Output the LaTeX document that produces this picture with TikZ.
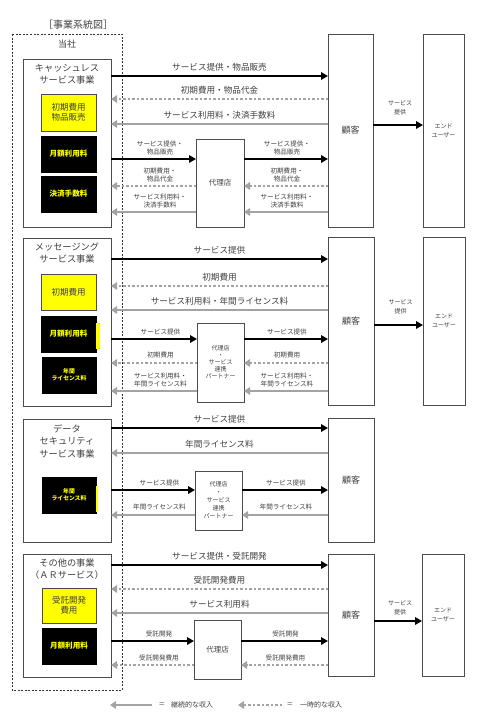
\documentclass[tikz,border=0pt]{standalone}
\usepackage{fontspec}
\setmainfont{Noto Sans CJK JP}
\usetikzlibrary{arrows.meta}
\definecolor{arrgray}{RGB}{163,163,163}
\definecolor{txtgray}{RGB}{64,64,64}
\definecolor{hlyellow}{RGB}{255,255,0}
\newcommand\fzTitle{\fontsize{10}{12}\selectfont}
\newcommand\fzSec{\fontsize{9.2}{12}\selectfont}
\newcommand\fzSecB{\fontsize{9.2}{12.5}\selectfont}
\newcommand\fzMain{\fontsize{8.6}{10}\selectfont}
\newcommand\fzBox{\fontsize{8.5}{9.8}\selectfont}
\newcommand\fzBlk{\fontsize{7.6}{9}\selectfont}
\newcommand\fzBlkS{\fontsize{5.8}{7.5}\selectfont}
\newcommand\fzSmall{\fontsize{6.6}{8}\selectfont}
\newcommand\fzTiny{\fontsize{6}{9}\selectfont}
\newcommand\fzDaiA{\fontsize{6}{7}\selectfont}
\newcommand\fzDaiB{\fontsize{6}{8}\selectfont}
\newcommand\fzDai{\fontsize{7.5}{9}\selectfont}
\newcommand\fzKok{\fontsize{9}{11}\selectfont}
\begin{document}
\begin{tikzpicture}[x=1pt,y=-1pt,
  box/.style={draw=black!70, line width=0.8pt, fill=white, inner sep=0pt, outer sep=0pt,
    anchor=north west, text=txtgray, align=center},
  ybox/.style={box, fill=hlyellow, minimum width=55, minimum height=36, font=\fzBox},
  bkbox/.style={box, draw=black, fill=black, text=hlyellow, font=\fzBlk\bfseries,
    minimum width=55, minimum height=36},
  ttl/.style={text=txtgray, font=\fzSec, align=center, inner sep=0pt},
  barr/.style={draw=black, line width=2.3pt, -{Triangle[length=7pt,width=7.5pt]}},
  garr/.style={draw=arrgray, line width=2.3pt, -{Triangle[length=6pt,width=7.5pt]}},
  gdot/.style={garr, dash pattern=on 2.4pt off 2.1pt},
  lab/.style={text=txtgray, font=\fzMain, inner sep=0pt},
  slab/.style={text=txtgray, font=\fzSmall, align=center, inner sep=0pt},
  tlab/.style={text=txtgray, font=\fzTiny, align=center, inner sep=0pt}
]
\useasboundingbox (0,0) rectangle (486,720);
\fill[white] (0,0) rectangle (486,720);

% header
\node[text=txtgray, font=\fzTitle, inner sep=0pt] (title) at (78,25) {［事業系統図］};
\draw[black!80, line width=0.7pt, dash pattern=on 2pt off 1.5pt] (12,34) rectangle (122,690);
\node[text=txtgray, font=\fzKok, inner sep=0pt] (tosha) at (67,44) {当社};

% ===== Section 1 =====
\node[box, minimum width=88, minimum height=168] (s1) at (23,59) {};
\node[ttl] (t1) at (67,74) {キャッシュレス\\サービス事業};
\node[ybox, minimum height=37] (y1a) at (41,94) {初期費用\\物品販売};
\node[bkbox] (b1b) at (41,136) {月額利用料};
\node[bkbox] (b1c) at (41,176) {決済手数料};
\node[box, minimum width=48, minimum height=88, font=\fzDai] (d1) at (196,139) {代理店};
\node[box, minimum width=45, minimum height=193, font=\fzKok] (k1) at (328,34) {顧客};
\node[box, minimum width=41, minimum height=193, font=\fzTiny] (e1) at (423,34) {エンド\\ユーザー};

\draw[barr] (s1.east |- 0,76) -- node[lab, above=4pt] {サービス提供・物品販売} (k1.west |- 0,76);
\draw[gdot] (k1.west |- 0,99) -- node[lab, above=4pt] {初期費用・物品代金} (s1.east |- 0,99);
\draw[garr] (k1.west |- 0,124) -- node[lab, above=4pt] {サービス利用料・決済手数料} (s1.east |- 0,124);
\draw[barr] (s1.east |- 0,159) -- node[slab, above=3pt, xshift=6.5pt] {サービス提供・\\物品販売} (d1.west |- 0,159);
\draw[barr] (d1.east |- 0,159) -- node[slab, above=3pt, xshift=1pt] {サービス提供・\\物品販売} (k1.west |- 0,159);
\draw[gdot] (d1.west |- 0,186) -- node[slab, above=3pt, xshift=6.5pt] {初期費用・\\物品代金} (s1.east |- 0,186);
\draw[gdot] (k1.west |- 0,186) -- node[slab, above=3pt, xshift=1pt] {初期費用・\\物品代金} (d1.east |- 0,186);
\draw[garr] (d1.west |- 0,212) -- node[slab, above=3pt, xshift=6.5pt] {サービス利用料・\\決済手数料} (s1.east |- 0,212);
\draw[garr] (k1.west |- 0,212) -- node[slab, above=3pt, xshift=1pt] {サービス利用料・\\決済手数料} (d1.east |- 0,212);
\draw[barr] (k1.east |- 0,125) -- node[tlab, above=9pt, xshift=2pt] {サービス\\提供} (e1.west |- 0,125);

% ===== Section 2 =====
\node[box, minimum width=88, minimum height=168] (s2) at (23,238) {};
\node[ttl] (t2) at (67,253) {メッセージング\\サービス事業};
\node[ybox] (y2a) at (41,274) {初期費用};
\node[bkbox] (b2b) at (41,316) {月額利用料};
\fill[hlyellow] (96.4,323) rectangle (99.5,349);
\node[bkbox, font=\fzBlkS\bfseries, minimum width=54] (b2c) at (42,357) {年間\\ライセンス料};
\node[box, minimum width=47, minimum height=79, font=\fzDaiA] (d2) at (197,323) {代理店\\・\\サービス\\連携\\パートナー};
\node[box, minimum width=46, minimum height=168, font=\fzKok] (k2) at (328,237) {顧客};
\node[box, minimum width=42, minimum height=168, font=\fzTiny] (e2) at (423,237) {エンド\\ユーザー};

\draw[barr] (s2.east |- 0,259) -- node[lab, above=4pt] {サービス提供} (k2.west |- 0,259);
\draw[gdot] (k2.west |- 0,286) -- node[lab, above=4pt] {初期費用} (s2.east |- 0,286);
\draw[garr] (k2.west |- 0,310) -- node[lab, above=4pt] {サービス利用料・年間ライセンス料} (s2.east |- 0,310);
\draw[barr] (s2.east |- 0,339) -- node[slab, above=3pt, xshift=6.5pt] {サービス提供} (d2.west |- 0,339);
\draw[barr] (d2.east |- 0,339) -- node[slab, above=3pt, xshift=1pt] {サービス提供} (k2.west |- 0,339);
\draw[gdot] (d2.west |- 0,363) -- node[slab, above=4pt, xshift=6.5pt] {初期費用} (s2.east |- 0,363);
\draw[gdot] (k2.west |- 0,363) -- node[slab, above=4pt, xshift=1pt] {初期費用} (d2.east |- 0,363);
\draw[garr] (d2.west |- 0,391) -- node[slab, above=3pt, xshift=6.5pt] {サービス利用料・\\年間ライセンス料} (s2.east |- 0,391);
\draw[garr] (k2.west |- 0,391) -- node[slab, above=3pt, xshift=1pt] {サービス利用料・\\年間ライセンス料} (d2.east |- 0,391);
\draw[barr] (k2.east |- 0,325) -- node[tlab, above=10pt, xshift=2pt] {サービス\\提供} (e2.west |- 0,325);

% ===== Section 3 =====
\node[box, minimum width=88, minimum height=123] (s3) at (23,419) {};
\node[ttl, font=\fzSecB] (t3) at (67,441) {データ\\セキュリティ\\サービス事業};
\node[bkbox, font=\fzBlkS\bfseries, minimum width=54] (b3) at (42,477) {年間\\ライセンス料};
\fill[hlyellow] (96.4,486) rectangle (97.8,512);
\node[box, minimum width=47, minimum height=59, font=\fzDaiB] (d3) at (195,471) {代理店\\・\\サービス\\連携\\パートナー};
\node[box, minimum width=46, minimum height=124, font=\fzKok] (k3) at (328,418) {顧客};

\draw[barr] (s3.east |- 0,428) -- node[lab, above=4pt] {サービス提供} (k3.west |- 0,428);
\draw[garr] (k3.west |- 0,453) -- node[lab, above=4pt] {年間ライセンス料} (s3.east |- 0,453);
\draw[barr] (s3.east |- 0,490) -- node[slab, above=3pt, xshift=6.5pt] {サービス提供} (d3.west |- 0,490);
\draw[barr] (d3.east |- 0,490) -- node[slab, above=3pt, xshift=1pt] {サービス提供} (k3.west |- 0,490);
\draw[garr] (d3.west |- 0,515) -- node[slab, above=4pt, xshift=6.5pt] {年間ライセンス料} (s3.east |- 0,515);
\draw[garr] (k3.west |- 0,515) -- node[slab, above=4pt, xshift=1pt] {年間ライセンス料} (d3.east |- 0,515);

% ===== Section 4 =====
\node[box, minimum width=88, minimum height=123] (s4) at (23,554) {};
\node[ttl] (t4) at (67,569.5) {その他の事業\\（ＡＲサービス）};
\node[ybox, minimum width=54, minimum height=35] (y4a) at (42,588) {受託開発\\費用};
\node[bkbox, minimum width=54] (b4b) at (42,628) {月額利用料};
\node[box, minimum width=47, minimum height=59, font=\fzDai] (d4) at (194,620) {代理店};
\node[box, minimum width=46, minimum height=122, font=\fzKok] (k4) at (328,554) {顧客};
\node[box, minimum width=42, minimum height=122, font=\fzTiny] (e4) at (422,554) {エンド\\ユーザー};

\draw[barr] (s4.east |- 0,565) -- node[lab, above=4pt] {サービス提供・受託開発} (k4.west |- 0,565);
\draw[gdot] (k4.west |- 0,589) -- node[lab, above=4pt] {受託開発費用} (s4.east |- 0,589);
\draw[garr] (k4.west |- 0,613) -- node[lab, above=4pt] {サービス利用料} (s4.east |- 0,613);
\draw[barr] (s4.east |- 0,641) -- node[slab, above=3pt, xshift=6.5pt] {受託開発} (d4.west |- 0,641);
\draw[barr] (d4.east |- 0,641) -- node[slab, above=3pt, xshift=1pt] {受託開発} (k4.west |- 0,641);
\draw[gdot] (d4.west |- 0,665) -- node[slab, above=3pt, xshift=6.5pt] {受託開発費用} (s4.east |- 0,665);
\draw[gdot] (k4.west |- 0,665) -- node[slab, above=3pt, xshift=1pt] {受託開発費用} (d4.east |- 0,665);
\draw[barr] (k4.east |- 0,621) -- node[tlab, above=5pt, xshift=2pt] {サービス\\提供} (e4.west |- 0,621);

% ===== Legend =====
\coordinate (lg1s) at (152,705);
\coordinate (lg1e) at (110,705);
\coordinate (lg2s) at (282,705);
\coordinate (lg2e) at (238,705);
\draw[garr] (lg1s) -- (lg1e);
\draw[gdot] (lg2s) -- (lg2e);
\node[slab] (lgq1) at (162,705) {＝};
\node[slab, font=\fontsize{7}{8}\selectfont] (lgt1) at (192,705) {継続的な収入};
\node[slab] (lgq2) at (290,705) {＝};
\node[slab, font=\fontsize{7}{8}\selectfont] (lgt2) at (321,705) {一時的な収入};
\end{tikzpicture}
\end{document}
